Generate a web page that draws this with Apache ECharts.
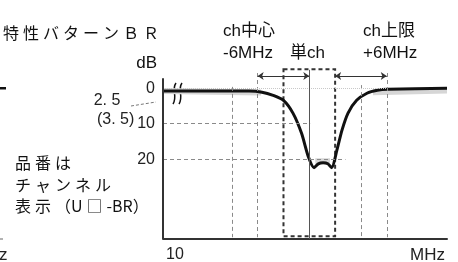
<!doctype html>
<html>
<head>
	<meta charset="utf-8">
	<title>特性バターンＢＲ</title>
	<style>
		html, body { margin: 0; padding: 0; background: #fff; }
		#chart { width: 458px; height: 262px; }
	</style>
</head>
<body>
	<div id="chart"></div>
	<script src="https://cdn.jsdelivr.net/npm/echarts@6/dist/echarts.min.js"></script>
	<script type="text/javascript">
		// 周波数 (ch中心からの差 MHz)
		var freq = [-17, -7, -5.5, -4.2, -3.0, -1.9, -0.9, -0.1, 0.55, 1.05, 1.6, 2.15, 2.6, 3.2, 3.8, 4.5, 5.5, 6.7, 7.9, 9.1, 16];
		// 減衰量 (dB)
		var atten = [0.8, 0.8, 1.1, 2.0, 3.4, 7.0, 12.7, 19.4, 22.4, 21.3, 21.0, 21.3, 22.4, 17.5, 11.8, 7.0, 3.4, 1.4, 0.56, 0.28, 0.0];
		// 灰色の帯 (null で切る)
		var bandFreq = [-17, -5.6, null, 0.7, 2.4, null, 7.4, 16];
		var bandAtten = [0.8, 1.2, null, 20.6, 20.6, null, 1.1, 0.6];

		var yTicks = [0, 10, 20];
		var hGrid = [10, 20];          // 横の破線
		var hGridEnd = [0.1, 4.2];     // 破線の右端 (MHz)
		var vGrid = [-9, -6, 6, 9];    // 縦の破線
		var vGridTop = [-0.4, -4.3, -0.9, -4.3];
		var chLow = -3, chHigh = 3;    // 単ch の枠
		var arrowY = -3.47;
		var arrows = [[-6, 0], [3, 9]];

		var xMin = -17, xMax = 16, yMin = -6, yMax = 42.5;

		var title = '特性バターンＢＲ';
		var sp = '\u2005';
		var noteLines = ['品番は'.split('').join(sp), 'チャンネル'.split('').join(sp), '表' + sp + '示' + sp + '（U' + sp + '□' + sp + '-BR）'];

		var latin = "'Liberation Sans', 'Noto Sans CJK JP', sans-serif";

		function pairs(xs, ys) {
			var out = [];
			for (var i = 0; i < xs.length; i++) {
				out.push(xs[i] === null ? '-' : [xs[i], ys[i]]);
			}
			return out;
		}

		var gridLines = [];
		for (var i = 0; i < hGrid.length; i++) {
			gridLines.push([{ coord: [xMin, hGrid[i]] }, { coord: [hGridEnd[i], hGrid[i]] }]);
		}
		for (var j = 0; j < vGrid.length; j++) {
			gridLines.push([{ coord: [vGrid[j], vGridTop[j]] }, { coord: [vGrid[j], 42] }]);
		}
		// 0dB の薄い点線
		gridLines.push([{ coord: [xMin, 0], lineStyle: { color: '#c8c8c8', type: 'dotted' } }, { coord: [9, 0] }]);
		// 縦軸
		gridLines.push([{ coord: [xMin, -2.8], lineStyle: { color: '#333', type: 'solid', width: 2 } }, { coord: [xMin, yMax] }]);

		var arrowLines = [];
		for (var k = 0; k < arrows.length; k++) {
			arrowLines.push([{ coord: [arrows[k][0], arrowY] }, { coord: [arrows[k][1], arrowY] }]);
		}

		var chart = echarts.init(document.getElementById('chart'));
		var option = {
			animation: false,
			grid: { left: 163, right: 11, top: 67, bottom: 23 },
			xAxis: {
				type: 'value',
				min: xMin,
				max: xMax,
				axisLine: { onZero: false, lineStyle: { color: '#333', width: 2 } },
				axisTick: { show: false },
				axisLabel: { show: false },
				splitLine: { show: false }
			},
			yAxis: {
				type: 'value',
				inverse: true,
				min: yMin,
				max: yMax,
				axisLine: { show: false },
				axisTick: { show: false },
				splitLine: { show: false },
				axisLabel: {
					customValues: yTicks,
					margin: 8,
					fontSize: 16,
					fontFamily: latin,
					color: '#222',
					padding: [7, 0, 0, 0]
				}
			},
			series: [{
				// 帯 + 補助線
				type: 'line',
				z: 1,
				silent: true,
				clip: false,
				showSymbol: false,
				data: pairs(bandFreq, bandAtten),
				lineStyle: { color: '#d6d6d6', width: 6 },
				markLine: {
					silent: true,
					symbol: 'none',
					label: { show: false },
					lineStyle: { color: '#8a8a8a', type: [4, 3], width: 1 },
					data: gridLines
				},
				markArea: {
					silent: true,
					itemStyle: { color: 'rgba(0,0,0,0)', borderColor: '#333', borderWidth: 2, borderType: [4, 3] },
					data: [[{ coord: [chLow, -5.35] }, { coord: [chHigh, 41.7] }]]
				}
			}, {
				// 特性カーブ
				type: 'line',
				z: 3,
				silent: true,
				clip: false,
				smooth: 0.25,
				showSymbol: false,
				data: pairs(freq, atten),
				lineStyle: { color: '#111', width: 3 },
				markLine: {
					silent: true,
					symbol: ['arrow', 'arrow'],
					symbolSize: 6,
					label: { show: false },
					lineStyle: { color: '#333', type: 'solid', width: 1 },
					data: arrowLines.concat([[
						{ coord: [0, -5.2], symbol: 'none', lineStyle: { color: '#555', width: 1 } },
						{ coord: [0, yMax], symbol: 'none' }
					]])
				}
			}],
			graphic: [
				{ type: 'text', style: { x: 3, y: 33, text: title.split('').join(sp), font: "16px 'Noto Sans CJK JP'", fill: '#111', verticalAlign: 'middle' } },
				{ type: 'text', style: { x: 223, y: 31, text: 'ch中心', font: '17px ' + latin, fill: '#111', verticalAlign: 'middle' } },
				{ type: 'text', style: { x: 223, y: 53, text: '-6MHz', font: '17px ' + latin, fill: '#111', verticalAlign: 'middle' } },
				{ type: 'text', style: { x: 290, y: 53, text: '単ch', font: '17px ' + latin, fill: '#111', verticalAlign: 'middle' } },
				{ type: 'text', style: { x: 363, y: 31, text: 'ch上限', font: '17px ' + latin, fill: '#111', verticalAlign: 'middle' } },
				{ type: 'text', style: { x: 363, y: 53, text: '+6MHz', font: '17px ' + latin, fill: '#111', verticalAlign: 'middle' } },
				{ type: 'text', style: { x: 157, y: 63, text: 'dB', font: '17px ' + latin, fill: '#111', align: 'right', verticalAlign: 'middle' } },
				{ type: 'text', style: { x: 107, y: 101, text: '2. 5', font: '16px ' + latin, fill: '#222', align: 'center', verticalAlign: 'middle' } },
				{ type: 'text', style: { x: 97, y: 120, text: '(3. 5)', font: '16px ' + latin, fill: '#222', verticalAlign: 'middle' } },
				{ type: 'line', shape: { x1: 131, y1: 106, x2: 156, y2: 102 }, style: { stroke: '#777', lineWidth: 1, lineDash: [3, 2] } },
				{ type: 'text', style: { x: 15, y: 163, text: noteLines[0], font: "16px 'Noto Sans CJK JP'", fill: '#111', verticalAlign: 'middle' } },
				{ type: 'text', style: { x: 15, y: 185, text: noteLines[1], font: "16px 'Noto Sans CJK JP'", fill: '#111', verticalAlign: 'middle' } },
				{ type: 'text', style: { x: 15, y: 206, text: noteLines[2], font: "16px 'Noto Sans CJK JP'", fill: '#111', verticalAlign: 'middle' } },
				{ type: 'text', style: { x: 166, y: 255, text: '10', font: '16px ' + latin, fill: '#222', verticalAlign: 'middle' } },
				{ type: 'text', style: { x: 445, y: 255, text: 'MHz', font: '17px ' + latin, fill: '#222', align: 'right', verticalAlign: 'middle' } },
				// 左端に切れて見える隣の図
				{ type: 'rect', shape: { x: 0, y: 87, width: 6, height: 2.5 }, style: { fill: '#111' } },
				{ type: 'line', shape: { x1: 0, y1: 239, x2: 3, y2: 239 }, style: { stroke: '#999', lineWidth: 1.5 } },
				{ type: 'text', style: { x: -1, y: 255, text: 'z', font: '17px ' + latin, fill: '#222', verticalAlign: 'middle' } },
				// 省略記号
				{ type: 'bezierCurve', shape: { x1: 176, y1: 83, cpx1: 171, cpy1: 90, cpx2: 178, cpy2: 96, x2: 173, y2: 104 }, style: { stroke: '#111', lineWidth: 1.5, fill: null } },
				{ type: 'bezierCurve', shape: { x1: 182, y1: 83, cpx1: 177, cpy1: 90, cpx2: 184, cpy2: 96, x2: 179, y2: 104 }, style: { stroke: '#111', lineWidth: 1.5, fill: null } }
			]
		};
		chart.setOption(option);
	</script>
</body>
</html>
